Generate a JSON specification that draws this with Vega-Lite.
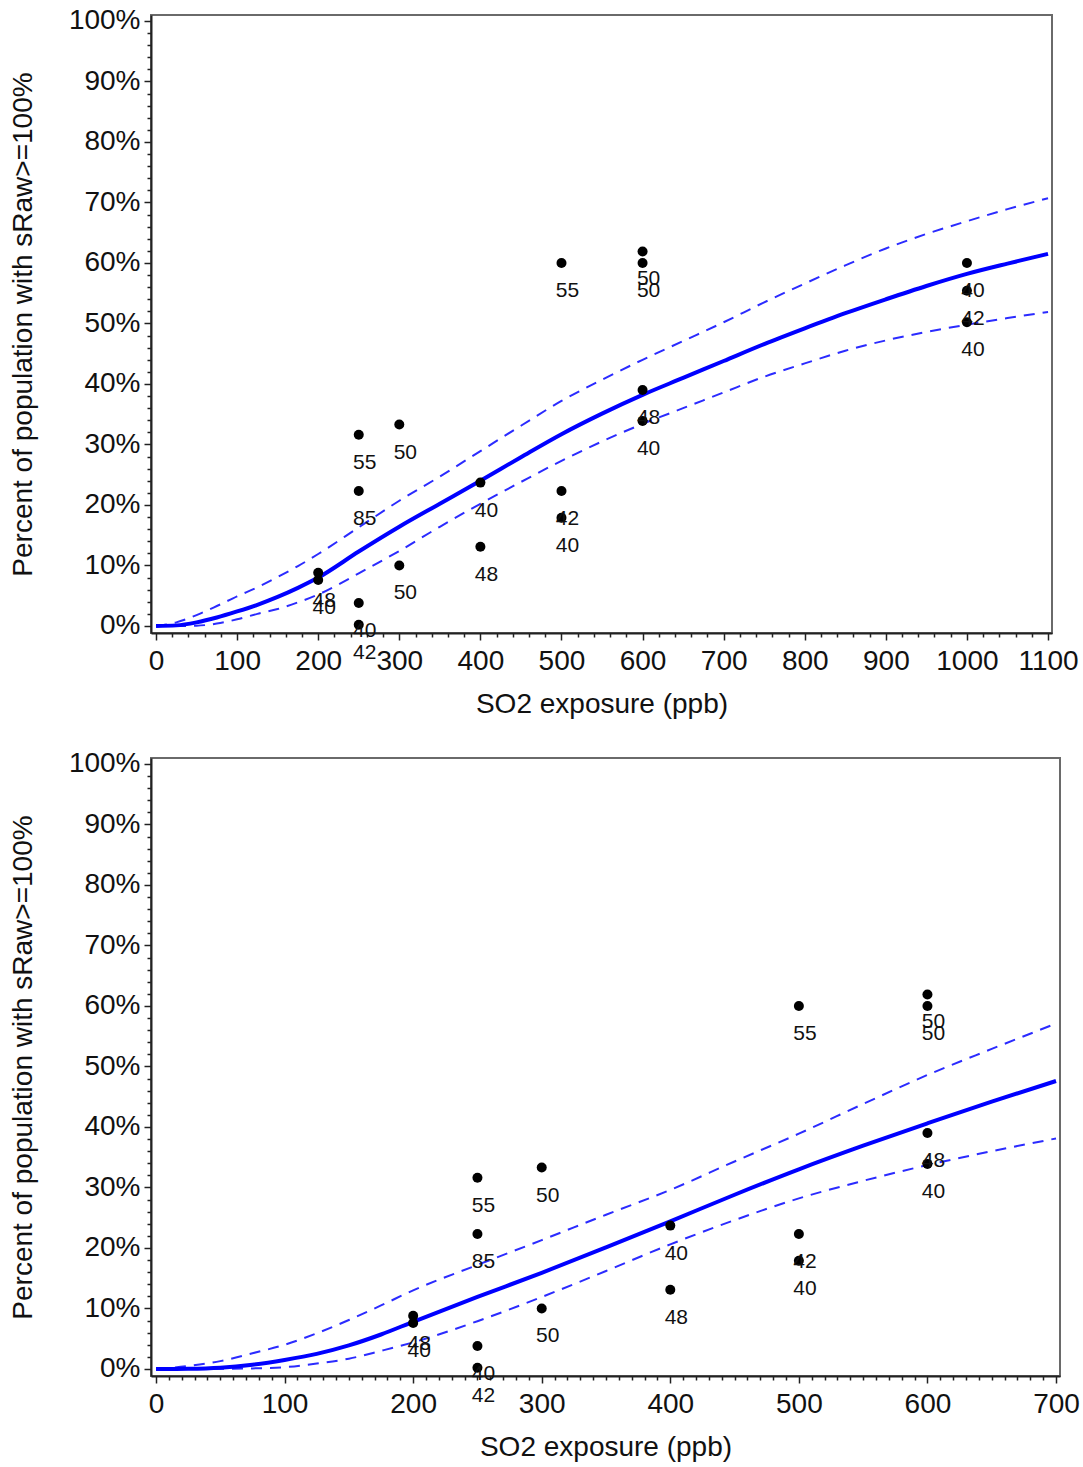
{
  "$schema": "https://vega.github.io/schema/vega-lite/v6.json",
  "background": "white",
  "padding": {"left": 8, "top": 5, "right": 0, "bottom": 0},
  "config": {
    "view": {"stroke": "#6a6a6a", "strokeWidth": 2},
    "font": "Liberation Sans",
    "axis": {
      "grid": false,
      "domainColor": "#222222",
      "domainWidth": 2,
      "tickColor": "#222222",
      "tickWidth": 1.5,
      "labelFont": "Liberation Sans",
      "labelFontSize": 28,
      "labelColor": "#111111",
      "titleFont": "Liberation Sans",
      "titleFontSize": 28,
      "titleFontWeight": "normal",
      "titleColor": "#111111",
      "labelOverlap": false,
      "labelBound": false,
      "labelFlush": false
    }
  },
  "datasets": {
    "obs": [
      {"x": 200, "pct": 8.8, "n": 48},
      {"x": 200, "pct": 7.6, "n": 40},
      {"x": 250, "pct": 31.6, "n": 55},
      {"x": 250, "pct": 22.3, "n": 85},
      {"x": 250, "pct": 3.8, "n": 40},
      {"x": 250, "pct": 0.2, "n": 42},
      {"x": 300, "pct": 33.3, "n": 50},
      {"x": 300, "pct": 10.0, "n": 50},
      {"x": 400, "pct": 23.7, "n": 40},
      {"x": 400, "pct": 13.1, "n": 48},
      {"x": 500, "pct": 60.0, "n": 55},
      {"x": 500, "pct": 22.3, "n": 42},
      {"x": 500, "pct": 17.9, "n": 40},
      {"x": 600, "pct": 61.9, "n": 50},
      {"x": 600, "pct": 60.0, "n": 50},
      {"x": 600, "pct": 39.0, "n": 48},
      {"x": 600, "pct": 33.9, "n": 40},
      {"x": 1000, "pct": 60.0, "n": 40},
      {"x": 1000, "pct": 55.4, "n": 42},
      {"x": 1000, "pct": 50.2, "n": 40}
    ],
    "fitTop": [
      {"x": 0, "fit": 0, "lo": 0, "hi": 0},
      {"x": 25, "fit": 0.1, "lo": 0, "hi": 0.6},
      {"x": 50, "fit": 0.6, "lo": 0.05, "hi": 1.8},
      {"x": 75, "fit": 1.4, "lo": 0.4, "hi": 3.3},
      {"x": 100, "fit": 2.4, "lo": 1.1, "hi": 4.9},
      {"x": 125, "fit": 3.5, "lo": 2.0, "hi": 6.4},
      {"x": 150, "fit": 4.8, "lo": 2.8, "hi": 8.1},
      {"x": 175, "fit": 6.3, "lo": 3.9, "hi": 9.9},
      {"x": 200, "fit": 8.0, "lo": 5.2, "hi": 11.9},
      {"x": 250, "fit": 12.3, "lo": 8.7, "hi": 16.3},
      {"x": 300, "fit": 16.4, "lo": 12.4, "hi": 20.7},
      {"x": 350, "fit": 20.2, "lo": 16.4, "hi": 24.7},
      {"x": 400, "fit": 24.0, "lo": 20.2, "hi": 28.9},
      {"x": 450, "fit": 27.9, "lo": 23.8, "hi": 33.1},
      {"x": 500, "fit": 31.7, "lo": 27.3, "hi": 37.2},
      {"x": 550, "fit": 35.1, "lo": 30.5, "hi": 40.7},
      {"x": 600, "fit": 38.2, "lo": 33.4, "hi": 44.0},
      {"x": 650, "fit": 41.0, "lo": 36.0, "hi": 47.1},
      {"x": 700, "fit": 43.8, "lo": 38.6, "hi": 50.2},
      {"x": 750, "fit": 46.6, "lo": 41.2, "hi": 53.5},
      {"x": 800, "fit": 49.2, "lo": 43.4, "hi": 56.6},
      {"x": 850, "fit": 51.7, "lo": 45.5, "hi": 59.6},
      {"x": 900, "fit": 54.0, "lo": 47.2, "hi": 62.4},
      {"x": 950, "fit": 56.2, "lo": 48.6, "hi": 64.8},
      {"x": 1000, "fit": 58.2, "lo": 49.8, "hi": 66.9},
      {"x": 1050, "fit": 59.9, "lo": 50.9, "hi": 68.9},
      {"x": 1100, "fit": 61.5, "lo": 51.9, "hi": 70.7}
    ],
    "fitBot": [
      {"x": 0, "fit": 0, "lo": 0, "hi": 0},
      {"x": 25, "fit": 0.03, "lo": 0, "hi": 0.5},
      {"x": 50, "fit": 0.2, "lo": 0.02, "hi": 1.3},
      {"x": 75, "fit": 0.7, "lo": 0.1, "hi": 2.6},
      {"x": 100, "fit": 1.5, "lo": 0.3, "hi": 4.0},
      {"x": 125, "fit": 2.5, "lo": 0.9, "hi": 5.9},
      {"x": 150, "fit": 3.9, "lo": 1.7, "hi": 8.1},
      {"x": 175, "fit": 5.7, "lo": 3.0, "hi": 10.5},
      {"x": 200, "fit": 7.8, "lo": 4.4, "hi": 13.0},
      {"x": 250, "fit": 11.9, "lo": 7.9, "hi": 17.2},
      {"x": 300, "fit": 15.9, "lo": 11.9, "hi": 21.3},
      {"x": 350, "fit": 20.1, "lo": 16.2, "hi": 25.5},
      {"x": 400, "fit": 24.4, "lo": 20.6, "hi": 29.6},
      {"x": 450, "fit": 28.8, "lo": 24.6, "hi": 34.3},
      {"x": 500, "fit": 33.0, "lo": 28.2, "hi": 38.9},
      {"x": 550, "fit": 36.9, "lo": 31.1, "hi": 43.8},
      {"x": 600, "fit": 40.6, "lo": 33.7, "hi": 48.6},
      {"x": 650, "fit": 44.2, "lo": 36.0, "hi": 52.9},
      {"x": 700, "fit": 47.6, "lo": 38.1, "hi": 57.1}
    ]
  },
  "bounds": "flush",
  "spacing": 125,
  "vconcat": [
    {
      "width": 901,
      "height": 618,
      "resolve": {"axis": {"x": "independent", "y": "independent"}},
      "layer": [
        {
          "data": {"name": "fitTop"},
          "mark": {"type": "line", "color": "#2b2bff", "strokeWidth": 2, "strokeDash": [11, 8], "interpolate": "monotone"},
          "encoding": {
            "x": {
              "field": "x", "type": "quantitative",
              "scale": {"domain": [-6.2, 1104.9], "nice": false, "zero": false},
              "axis": {"orient": "bottom", "title": "SO2 exposure (ppb)", "values": [0,100,200,300,400,500,600,700,800,900,1000,1100], "format": "d", "labelOverlap": false, "tickSize": 7, "labelPadding": 7, "titlePadding": 15}
            },
            "y": {
              "field": "hi", "type": "quantitative",
              "scale": {"domain": [-1.16, 100.99], "nice": false, "zero": false},
              "axis": {"orient": "left", "title": "Percent of population with sRaw>=100%", "values": [0,10,20,30,40,50,60,70,80,90,100], "labelExpr": "datum.value + '%'", "labelOverlap": false, "tickSize": 7, "labelPadding": 4, "titlePadding": 31}
            }
          }
        },
        {
          "data": {"name": "fitTop"},
          "mark": {"type": "line", "color": "#2b2bff", "strokeWidth": 2, "strokeDash": [11, 8], "interpolate": "monotone"},
          "encoding": {
            "x": {
              "field": "x", "type": "quantitative",
              "axis": {"orient": "bottom", "title": null, "labels": false, "domain": false, "tickSize": 4, "values": [20,40,60,80,120,140,160,180,220,240,260,280,320,340,360,380,420,440,460,480,520,540,560,580,620,640,660,680,720,740,760,780,820,840,860,880,920,940,960,980,1020,1040,1060,1080]}
            },
            "y": {
              "field": "lo", "type": "quantitative",
              "axis": {"orient": "left", "title": null, "labels": false, "domain": false, "tickSize": 4, "values": [2,4,6,8,12,14,16,18,22,24,26,28,32,34,36,38,42,44,46,48,52,54,56,58,62,64,66,68,72,74,76,78,82,84,86,88,92,94,96,98]}
            }
          }
        },
        {
          "data": {"name": "fitTop"},
          "mark": {"type": "line", "color": "#0000ff", "strokeWidth": 4, "interpolate": "monotone"},
          "encoding": {
            "x": {"field": "x", "type": "quantitative", "axis": null},
            "y": {"field": "fit", "type": "quantitative", "axis": null}
          }
        },
        {
          "data": {"name": "obs"},
          "mark": {"type": "point", "filled": true, "color": "#000000", "size": 100, "opacity": 1},
          "encoding": {
            "x": {"field": "x", "type": "quantitative", "axis": null},
            "y": {"field": "pct", "type": "quantitative", "axis": null}
          }
        },
        {
          "data": {"name": "obs"},
          "mark": {"type": "text", "font": "Liberation Sans", "fontSize": 21, "color": "#111111", "dx": 6, "dy": 28, "align": "center", "baseline": "middle"},
          "encoding": {
            "x": {"field": "x", "type": "quantitative", "axis": null},
            "y": {"field": "pct", "type": "quantitative", "axis": null},
            "text": {"field": "n", "type": "nominal"}
          }
        }
      ]
    },
    {
      "width": 909,
      "height": 618,
      "resolve": {"axis": {"x": "independent", "y": "independent"}},
      "layer": [
        {
          "data": {"name": "fitBot"},
          "mark": {"type": "line", "color": "#2b2bff", "strokeWidth": 2, "strokeDash": [11, 8], "interpolate": "monotone"},
          "encoding": {
            "x": {
              "field": "x", "type": "quantitative",
              "scale": {"domain": [-3.9, 703.1], "nice": false, "zero": false},
              "axis": {"orient": "bottom", "title": "SO2 exposure (ppb)", "values": [0,100,200,300,400,500,600,700], "format": "d", "labelOverlap": false, "tickSize": 7, "labelPadding": 7, "titlePadding": 15}
            },
            "y": {
              "field": "hi", "type": "quantitative",
              "scale": {"domain": [-1.16, 100.99], "nice": false, "zero": false},
              "axis": {"orient": "left", "title": "Percent of population with sRaw>=100%", "values": [0,10,20,30,40,50,60,70,80,90,100], "labelExpr": "datum.value + '%'", "labelOverlap": false, "tickSize": 7, "labelPadding": 4, "titlePadding": 31}
            }
          }
        },
        {
          "data": {"name": "fitBot"},
          "mark": {"type": "line", "color": "#2b2bff", "strokeWidth": 2, "strokeDash": [11, 8], "interpolate": "monotone"},
          "encoding": {
            "x": {
              "field": "x", "type": "quantitative",
              "axis": {"orient": "bottom", "title": null, "labels": false, "domain": false, "tickSize": 4, "values": [10,20,30,40,50,60,70,80,90,110,120,130,140,150,160,170,180,190,210,220,230,240,250,260,270,280,290,310,320,330,340,350,360,370,380,390,410,420,430,440,450,460,470,480,490,510,520,530,540,550,560,570,580,590,610,620,630,640,650,660,670,680,690]}
            },
            "y": {
              "field": "lo", "type": "quantitative",
              "axis": {"orient": "left", "title": null, "labels": false, "domain": false, "tickSize": 4, "values": [2,4,6,8,12,14,16,18,22,24,26,28,32,34,36,38,42,44,46,48,52,54,56,58,62,64,66,68,72,74,76,78,82,84,86,88,92,94,96,98]}
            }
          }
        },
        {
          "data": {"name": "fitBot"},
          "mark": {"type": "line", "color": "#0000ff", "strokeWidth": 4, "interpolate": "monotone"},
          "encoding": {
            "x": {"field": "x", "type": "quantitative", "axis": null},
            "y": {"field": "fit", "type": "quantitative", "axis": null}
          }
        },
        {
          "data": {"name": "obs"},
          "transform": [{"filter": "datum.x <= 700"}],
          "mark": {"type": "point", "filled": true, "color": "#000000", "size": 100, "opacity": 1},
          "encoding": {
            "x": {"field": "x", "type": "quantitative", "axis": null},
            "y": {"field": "pct", "type": "quantitative", "axis": null}
          }
        },
        {
          "data": {"name": "obs"},
          "transform": [{"filter": "datum.x <= 700"}],
          "mark": {"type": "text", "font": "Liberation Sans", "fontSize": 21, "color": "#111111", "dx": 6, "dy": 28, "align": "center", "baseline": "middle"},
          "encoding": {
            "x": {"field": "x", "type": "quantitative", "axis": null},
            "y": {"field": "pct", "type": "quantitative", "axis": null},
            "text": {"field": "n", "type": "nominal"}
          }
        }
      ]
    }
  ]
}
